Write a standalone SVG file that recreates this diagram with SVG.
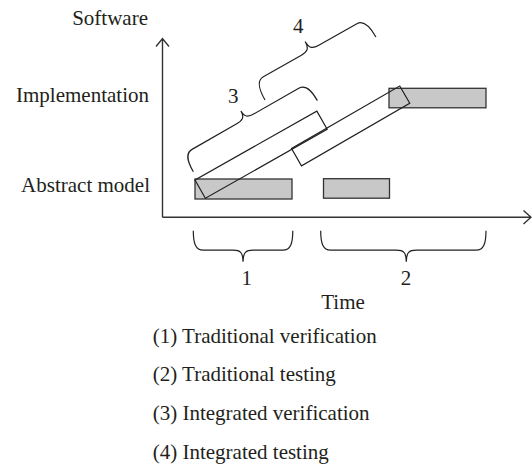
<svg xmlns="http://www.w3.org/2000/svg" width="532" height="466" viewBox="0 0 532 466">
<style>
text{font-family:"Liberation Serif","Times New Roman",serif;font-size:21px;fill:#231f20}
.bar{fill:#c8c8c8;stroke:#333;stroke-width:1.3}
.box{fill:none;stroke:#231f20;stroke-width:1.2}
.axis{fill:none;stroke:#333;stroke-width:1.4}
.brace{fill:none;stroke:#231f20;stroke-width:1.2}
.mid{text-anchor:middle}
.end{text-anchor:end}
</style>
<g id="axes">
<path class="axis" d="M162.5,217.3 V38.5 M156,46.5 L162.5,38.5 L169,46.5"/>
<path class="axis" d="M162.5,217.3 H531 M523.5,210.5 L531,217.3 L523.5,224"/>
<text class="end" x="148" y="25">Software</text>
<text class="mid" x="343" y="309">Time</text>
</g>
<g id="labels">
<text class="end" x="149" y="101.5">Implementation</text>
<text class="end" x="150" y="191.5">Abstract model</text>
</g>
<g id="bar-abstract-1"><rect class="bar" x="195" y="179" width="97" height="20"/></g>
<g id="bar-abstract-2"><rect class="bar" x="323.5" y="178.7" width="66" height="19.5"/></g>
<g id="bar-implementation"><rect class="bar" x="389" y="88.3" width="97" height="19.5"/></g>
<g id="connectors">
<rect class="box" transform="translate(195,180) rotate(-29.5)" x="0" y="0" width="140" height="21"/>
<rect class="box" transform="translate(291.5,148.5) rotate(-30)" x="0" y="0" width="125" height="20"/>
</g>
<g id="brace-1">
<path class="brace" transform="translate(193.3,230.7)" d="M0,0 C0,12 2,19.5 10,19.5 L39.75,19.5 C46.75,19.5 49.75,21.5 49.75,31 C49.75,21.5 52.75,19.5 59.75,19.5 L89.5,19.5 C97.5,19.5 99.5,12 99.5,0"/>
<text class="mid" x="246.7" y="285">1</text>
</g>
<g id="brace-2">
<path class="brace" transform="translate(320.7,230.7)" d="M0,0 C0,12 2,19.5 10,19.5 L75.6,19.5 C82.6,19.5 85.6,21.5 85.6,31 C85.6,21.5 88.6,19.5 95.6,19.5 L155.3,19.5 C163.3,19.5 165.3,12 165.3,0"/>
<text class="mid" x="406" y="285">2</text>
</g>
<g id="brace-3">
<path class="brace" transform="translate(193.3,171.7) rotate(-29.8)" d="M0,0 C0,-12 2,-20 10,-20 L61.5,-20 C68.5,-20 71.5,-22 71.5,-29 C71.5,-22 74.5,-20 81.5,-20 L133,-20 C141,-20 143,-12 143,0"/>
<text class="mid" x="233.3" y="102.7">3</text>
</g>
<g id="brace-4">
<path class="brace" transform="translate(265,100) rotate(-29.6)" d="M0,0 C0,-12 2,-21 10,-21 L53.8,-21 C60.8,-21 63.8,-23 63.8,-31 C63.8,-23 66.8,-21 73.8,-21 L117.6,-21 C125.6,-21 127.6,-12 127.6,0"/>
<text class="mid" x="298.3" y="32.7">4</text>
</g>
<g id="legend">
<text x="152.7" y="342.5">(1) Traditional verification</text>
<text x="152.7" y="381.3">(2) Traditional testing</text>
<text x="152.7" y="420">(3) Integrated verification</text>
<text x="152.7" y="458.5">(4) Integrated testing</text>
</g>
</svg>
